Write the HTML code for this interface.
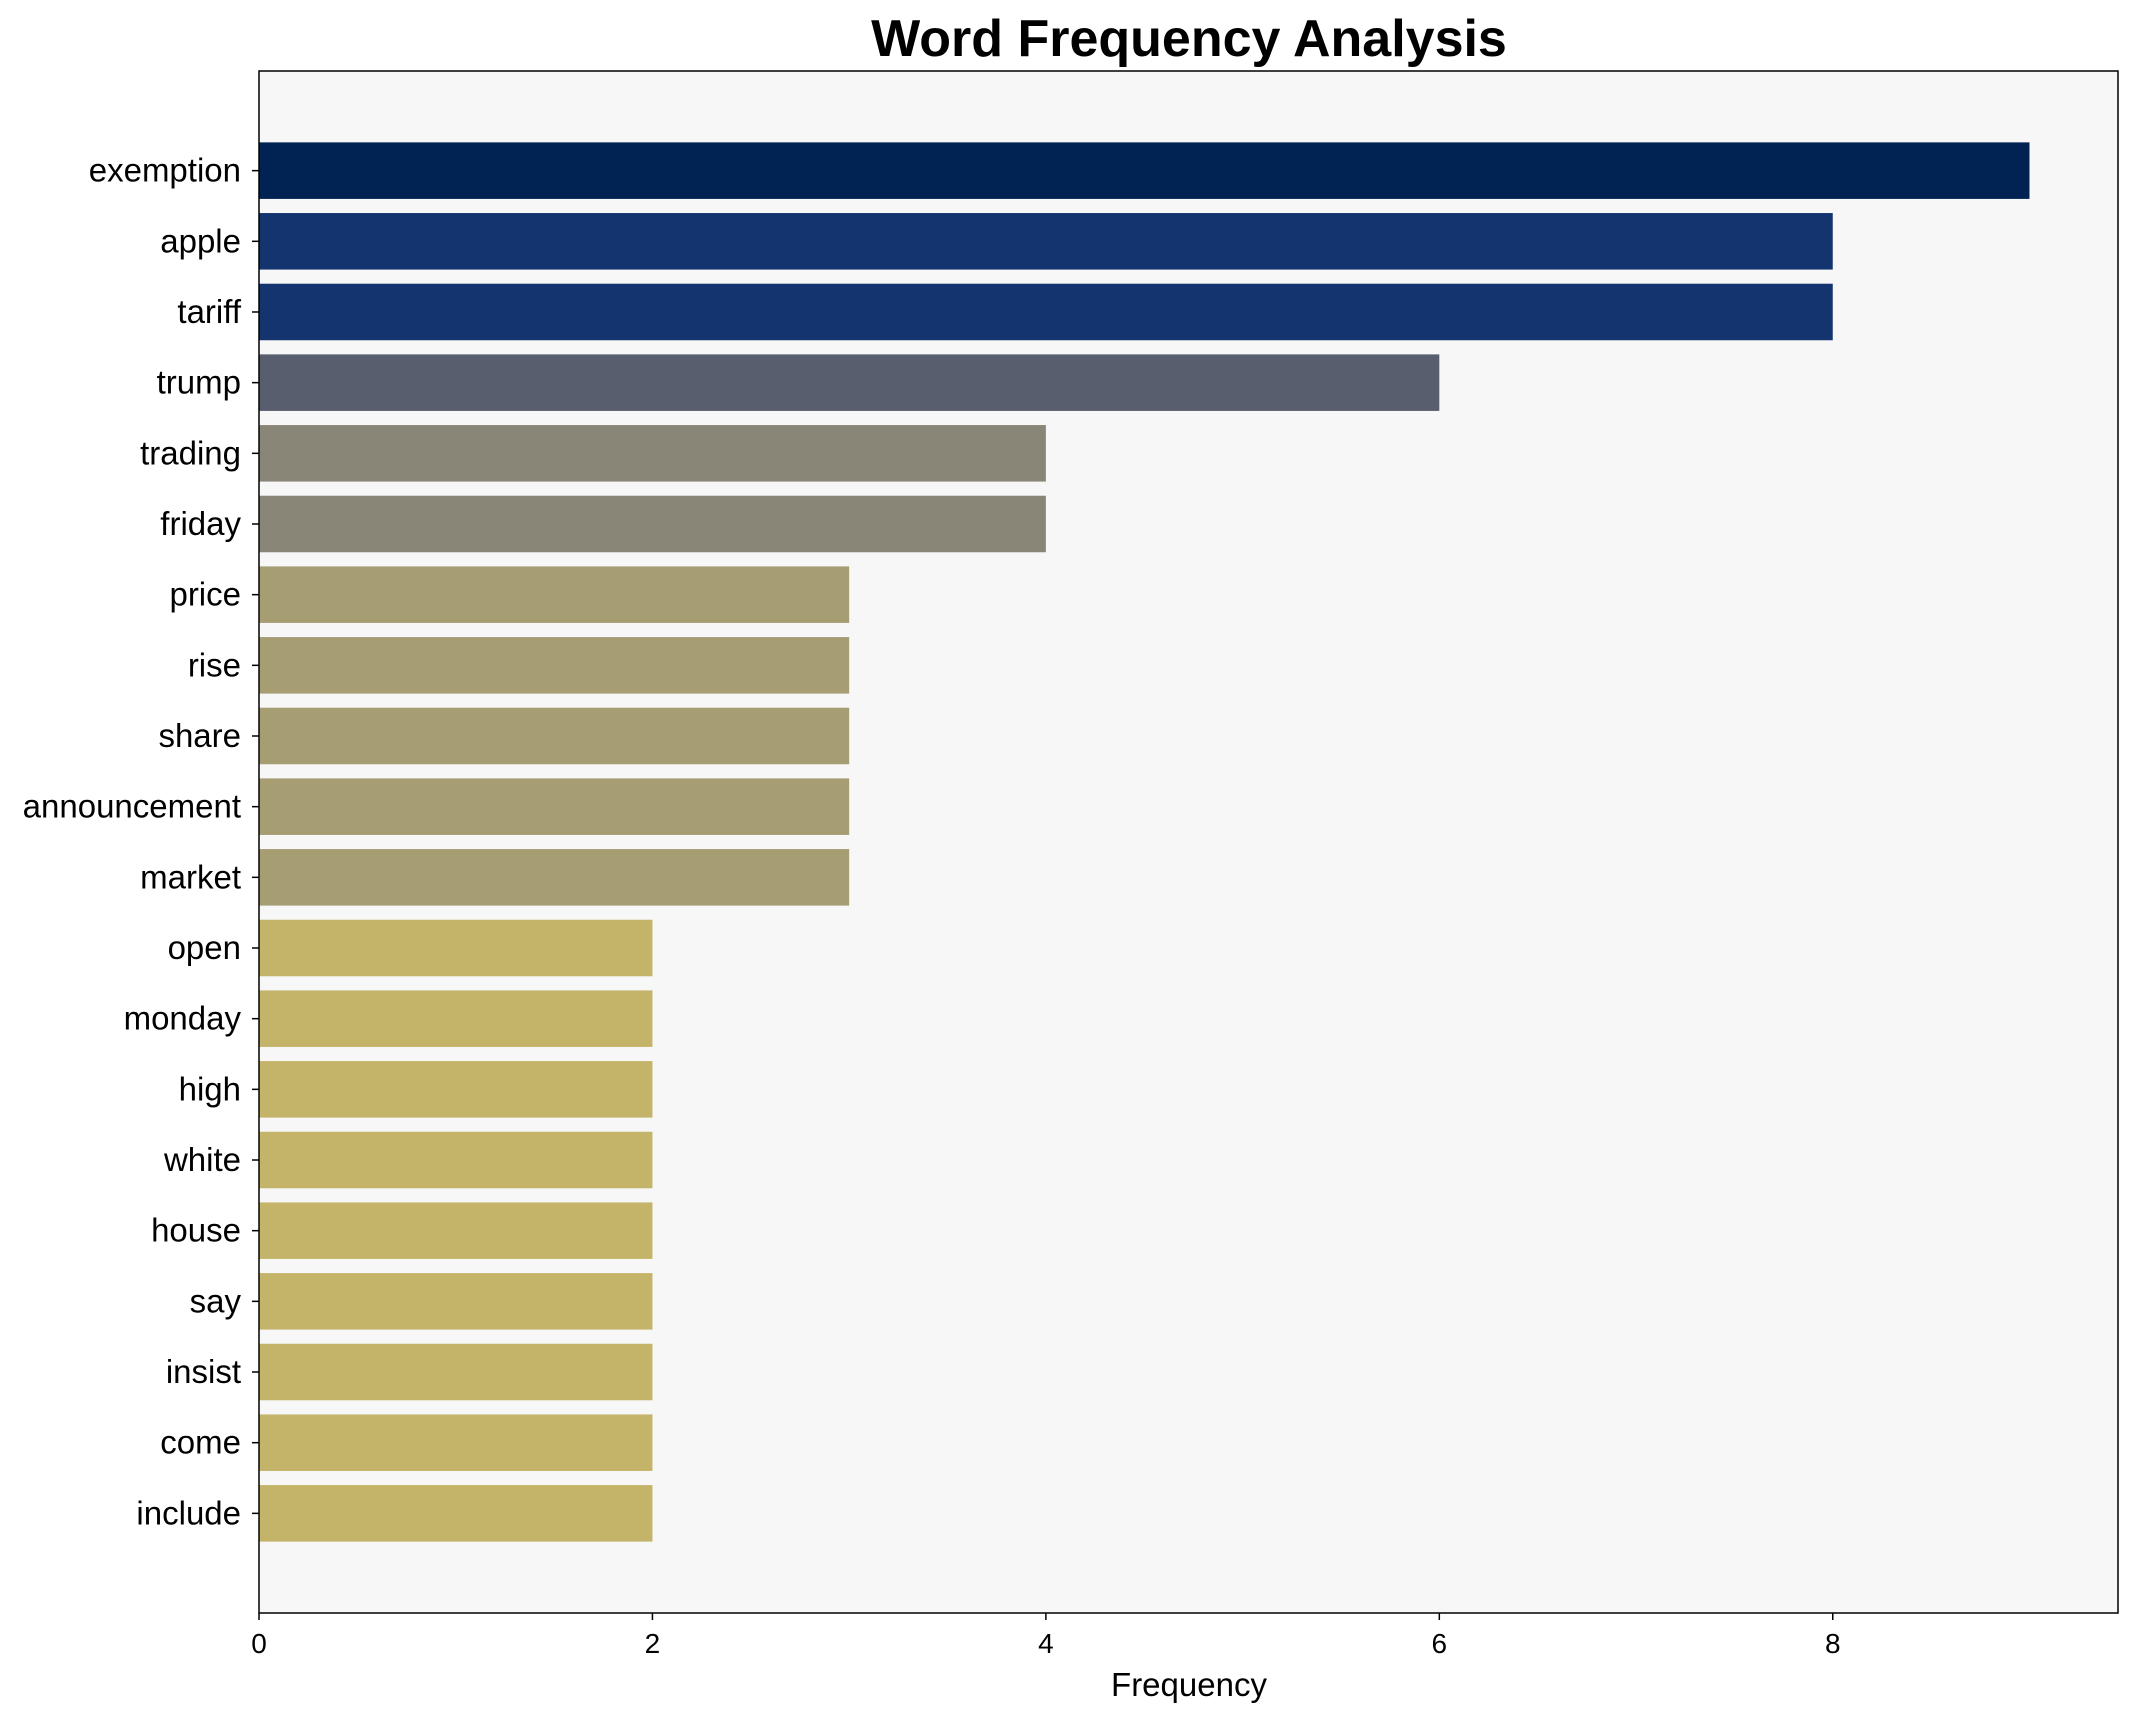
<!DOCTYPE html>
<html><head><meta charset="utf-8">
<style>
html,body{margin:0;padding:0;background:#fff;}
svg{display:block;font-family:"Liberation Sans",Arial,sans-serif;}
</style></head>
<body>
<svg id="chart" width="2140" height="1722" viewBox="0 0 2140 1722">
<rect x="0" y="0" width="2140" height="1722" fill="#ffffff"/>
<text x="1189" y="56" text-anchor="middle" font-size="52" font-weight="bold" fill="#000">Word Frequency Analysis</text>
<rect x="259" y="71" width="1859" height="1542" fill="#f7f7f7"/>
<g id="bars"></g>
<g id="yticks"></g>
<g id="xticks"></g>
<rect x="259" y="71" width="1859" height="1542" fill="none" stroke="#000" stroke-width="1.5"/>
<text x="1189" y="1696" text-anchor="middle" font-size="33" fill="#000">Frequency</text>
</svg>
<script>
const words = ["exemption","apple","tariff","trump","trading","friday","price","rise","share","announcement","market","open","monday","high","white","house","say","insist","come","include"];
const counts = [9,8,8,6,4,4,3,3,3,3,3,2,2,2,2,2,2,2,2,2];
const xTicks = [0,2,4,6,8];

(function(){
const NS = "http://www.w3.org/2000/svg";
const plotLeft = 259, plotRight = 2118, plotTop = 71, plotBottom = 1613;
const xMax = 9.45;
const xScale = v => plotLeft + v / xMax * (plotRight - plotLeft);
const n = words.length;
const yMin = -0.5 - 0.91, yMax = n - 1 + 0.5 + 0.91;
const yScale = i => plotTop + (i - yMin) / (yMax - yMin) * (plotBottom - plotTop);
const step = yScale(1) - yScale(0);
const bh = step * 0.8;
function color(v){
  if (v >= 9) return "#002353";
  if (v >= 8) return "#13346e";
  if (v >= 6) return "#585e6e";
  if (v >= 4) return "#8a8677";
  if (v >= 3) return "#a69d72";
  return "#c4b46a";
}
const bars = document.getElementById("bars");
const yt = document.getElementById("yticks");
const xt = document.getElementById("xticks");
words.forEach((w, i) => {
  const cy = yScale(i);
  const r = document.createElementNS(NS, "rect");
  r.setAttribute("x", xScale(0));
  r.setAttribute("y", cy - bh / 2);
  r.setAttribute("width", xScale(counts[i]) - xScale(0));
  r.setAttribute("height", bh);
  r.setAttribute("fill", color(counts[i]));
  
  
  bars.appendChild(r);
  const tk = document.createElementNS(NS, "line");
  tk.setAttribute("x1", plotLeft - 7); tk.setAttribute("x2", plotLeft);
  tk.setAttribute("y1", cy); tk.setAttribute("y2", cy);
  tk.setAttribute("stroke", "#000"); tk.setAttribute("stroke-width", "1.5");
  
  
  yt.appendChild(tk);
  const t = document.createElementNS(NS, "text");
  t.setAttribute("x", plotLeft - 18); t.setAttribute("y", cy + 11);
  t.setAttribute("text-anchor", "end"); t.setAttribute("font-size", "33");
  t.textContent = w;
  
  
  yt.appendChild(t);
});
xTicks.forEach(v => {
  const x = xScale(v);
  const tk = document.createElementNS(NS, "line");
  tk.setAttribute("x1", x); tk.setAttribute("x2", x);
  tk.setAttribute("y1", plotBottom); tk.setAttribute("y2", plotBottom + 7);
  tk.setAttribute("stroke", "#000"); tk.setAttribute("stroke-width", "1.5");
  
  
  xt.appendChild(tk);
  const t = document.createElementNS(NS, "text");
  t.setAttribute("x", x); t.setAttribute("y", plotBottom + 40);
  t.setAttribute("text-anchor", "middle"); t.setAttribute("font-size", "28");
  t.textContent = v;
  
  
  xt.appendChild(t);
});
})();
</script>
</body></html>
